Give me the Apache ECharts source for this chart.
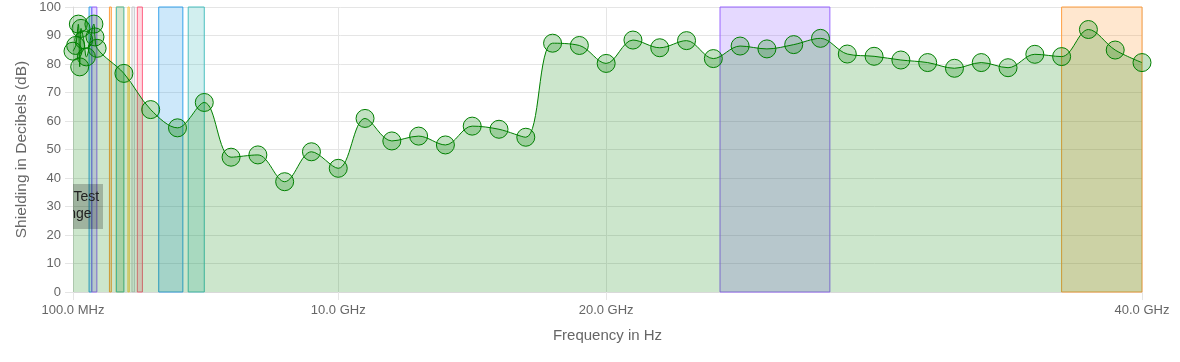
<!DOCTYPE html>
<html><head><meta charset="utf-8">
<script src="https://cdn.jsdelivr.net/npm/echarts@6/dist/echarts.min.js"></script>
<style>html,body{margin:0;padding:0;background:#fff}#c{width:1180px;height:362px}</style>
</head><body><div id="c"></div>
<script>
// ---- data ----
const frequenciesGHz = [0.1, 0.2, 0.3, 0.35, 0.4, 0.5, 0.6, 0.88, 0.92, 1.0,
  2, 3, 4, 5, 6, 7, 8, 9, 10, 11, 12, 13, 14, 15, 16, 17, 18, 19, 20,
  21, 22, 23, 24, 25, 26, 27, 28, 29, 30, 31, 32, 33, 34, 35, 36, 37, 38, 39, 40];
const shieldingDb = [84.5, 86.5, 94, 79, 92.5, 88.5, 82.5, 94, 89.5, 85.5,
  76.7, 64, 57.6, 66.5, 47.3, 48.1, 38.7, 49.2, 43.4, 60.9, 53, 54.7, 51.6, 58.2, 57.1, 54.3, 87.3, 86.5, 80.2,
  88.4, 85.7, 88.2, 81.9, 86.3, 85.3, 86.8, 89, 83.5, 82.7, 81.4, 80.5, 78.5, 80.5, 78.7, 83.4, 82.6, 92.1, 84.9, 80.5];
const xTickValues = [0.1, 10, 20, 40];
const yMin = 0, yMax = 100, yStep = 10;
const bandRanges = [[0.7, 0.8], [0.8, 0.99], [1.46, 1.53], [1.71, 1.99], [1.72, 2.0],
  [2.15, 2.2], [2.3, 2.4], [2.5, 2.69], [3.3, 4.2], [4.4, 5.0], [24.25, 28.35], [37, 40]];
const bandColorNames = ['blue', 'purple', 'orange', 'yellow', 'teal', 'yellow', 'grey', 'red',
  'blue', 'teal', 'purple', 'orange'];
const testRangeAnchor = [0.1, 30];
const testRangeWords = ['Test', 'Range'];
const xAxisTitle = 'Frequency in Hz';
const yAxisTitle = 'Shielding in Decibels (dB)';

// ---- styles ----
const palette = {
  red: [255, 99, 132], orange: [255, 159, 64], yellow: [255, 205, 86], teal: [75, 192, 192],
  blue: [54, 162, 235], purple: [153, 102, 255], grey: [201, 203, 207]
};
const FONT = 'Liberation Sans, Arial, Helvetica, sans-serif';
const rgba = (c, a) => `rgba(${c[0]},${c[1]},${c[2]},${a})`;

function fmtFreq(v) {
  if (v < 1) return (v * 1000).toFixed(1) + ' MHz';
  return v.toFixed(1) + ' GHz';
}

const points = frequenciesGHz.map((f, i) => [f, shieldingDb[i]]);
const bandData = bandRanges.map((r, i) => {
  const c = palette[bandColorNames[i]];
  return [{ xAxis: r[0], itemStyle: { color: rgba(c, 0.25), borderColor: rgba(c, 1), borderWidth: 1, opacity: 1 } },
          { xAxis: r[1] }];
});

const chart = echarts.init(document.getElementById('c'), null, { renderer: 'canvas' });
chart.setOption({
  animation: false,
  backgroundColor: '#fff',
  textStyle: { fontFamily: FONT },
  grid: { left: 73, right: 38, top: 7, bottom: 70, containLabel: false },
  xAxis: {
    type: 'value', min: 0.1, max: 40,
    name: xAxisTitle, nameLocation: 'middle', nameGap: 36, nameMoveOverlap: false,
    nameTextStyle: { color: '#666', fontSize: 15, fontFamily: FONT },
    axisLine: { show: true, lineStyle: { color: '#d9d9d9' } },
    axisTick: { show: true, length: 8, customValues: xTickValues, lineStyle: { color: '#e5e5e5' } },
    axisLabel: { customValues: xTickValues, formatter: fmtFreq, color: '#666', fontSize: 13, margin: 12, fontFamily: FONT },
    splitLine: { show: true, lineStyle: { color: '#e5e5e5' } }
  },
  yAxis: {
    type: 'value', min: yMin, max: yMax, interval: yStep,
    name: yAxisTitle, nameLocation: 'middle', nameGap: 43, nameMoveOverlap: false,
    nameTextStyle: { color: '#666', fontSize: 15.5, fontFamily: FONT },
    axisLine: { show: true, lineStyle: { color: '#d9d9d9' } },
    axisTick: { show: true, length: 8, lineStyle: { color: '#e5e5e5' } },
    axisLabel: { color: '#666', fontSize: 13, margin: 12, fontFamily: FONT },
    splitLine: { show: true, lineStyle: { color: '#e5e5e5' } }
  },
  series: [
    {
      type: 'line', data: points, smooth: 0.35, z: 2,
      lineStyle: { color: 'rgb(0,128,0)', width: 1 },
      areaStyle: { color: 'rgba(0,128,0,0.2)', opacity: 1, origin: 'start' },
      symbol: 'circle', symbolSize: 18,
      itemStyle: { color: 'rgba(0,128,0,0.24)', borderColor: 'rgb(0,128,0)', borderWidth: 1, opacity: 1 },
      emphasis: { disabled: true }
    },
    {
      type: 'line', data: [], z: 5, silent: true,
      markArea: { silent: true, data: bandData }
    },
    {
      type: 'custom', clip: true, z: 6, silent: true,
      data: [testRangeAnchor],
      renderItem(params, api) {
        const p = api.coord([api.value(0), api.value(1)]);
        return {
          type: 'group', children: [
            { type: 'rect', shape: { x: p[0] - 19, y: p[1] - 22.5, width: 49, height: 45 },
              style: { fill: 'rgba(0,0,0,0.22)' } },
            { type: 'text', style: { text: testRangeWords[0], x: p[0] + 0.5, y: p[1] - 9,
              fill: '#222', font: '14px ' + FONT, align: 'left', verticalAlign: 'middle' } },
            { type: 'text', style: { text: testRangeWords[1], x: p[0] + 18.5, y: p[1] + 8,
              fill: '#222', font: '14px ' + FONT, align: 'right', verticalAlign: 'middle' } }
          ]
        };
      }
    }
  ]
});
</script>
</body></html>
